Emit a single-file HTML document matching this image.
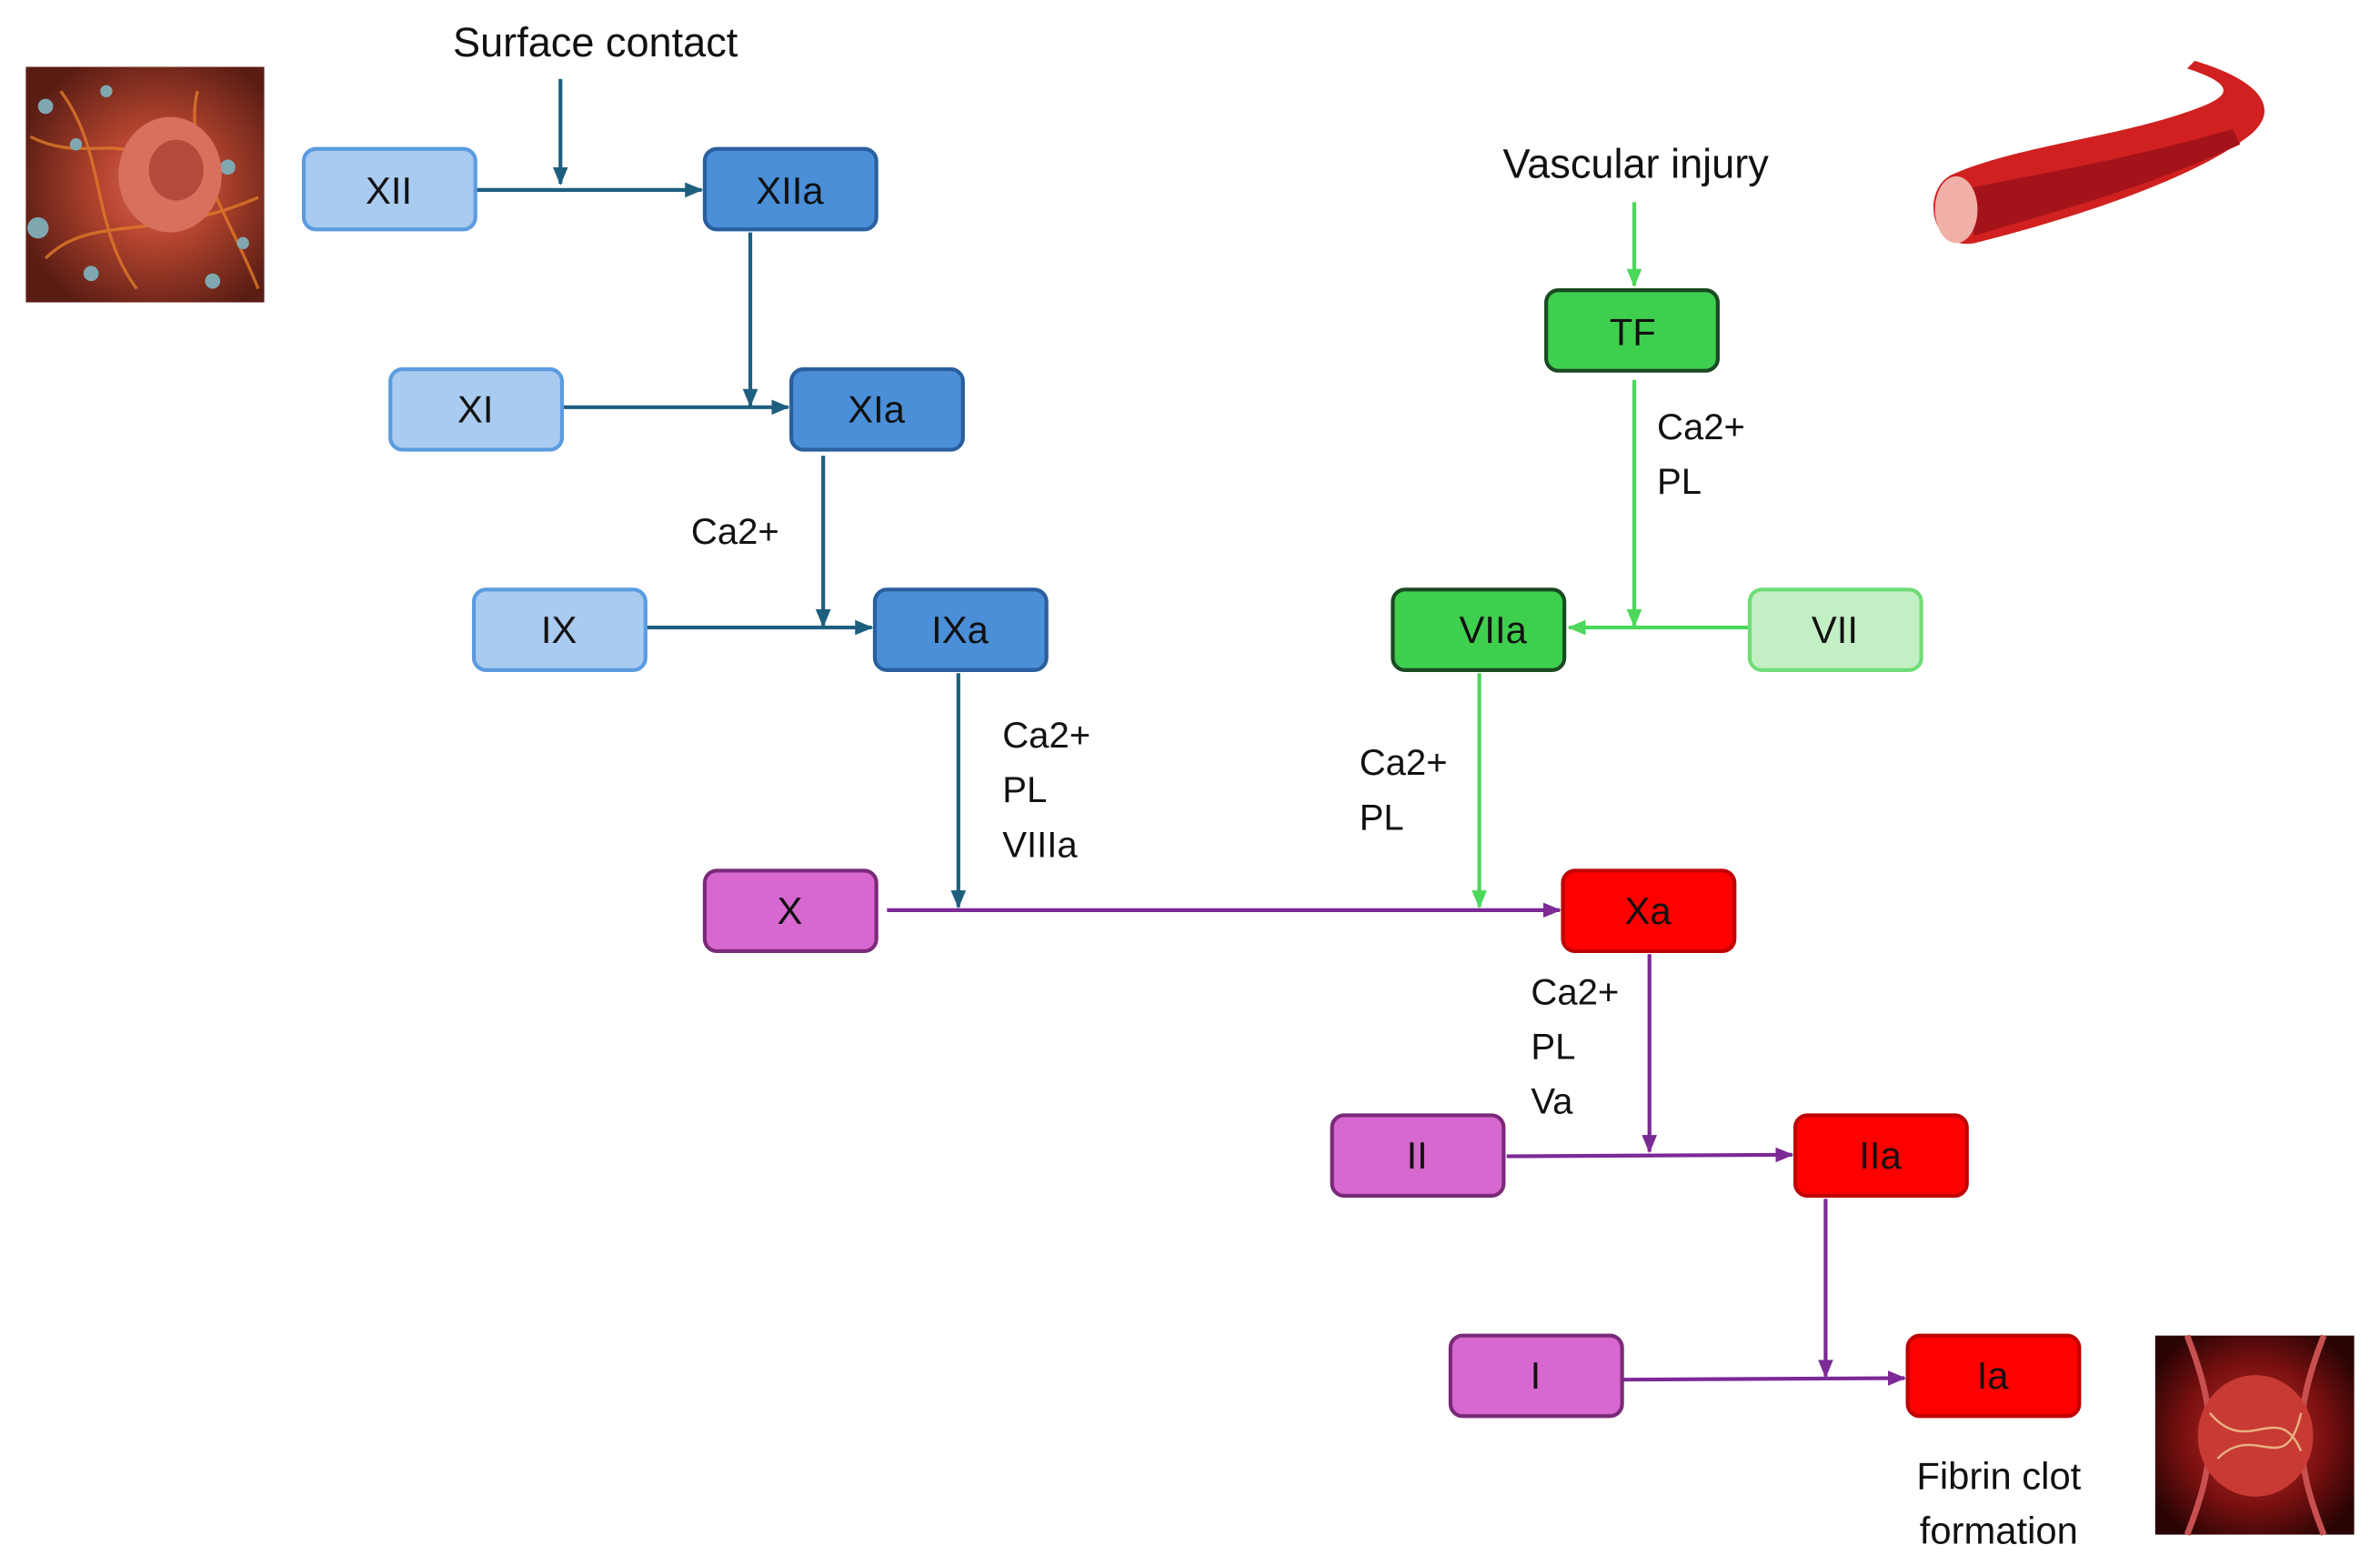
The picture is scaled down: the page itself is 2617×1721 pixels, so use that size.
<!DOCTYPE html>
<html><head><meta charset="utf-8"><style>
html,body{margin:0;padding:0;background:#fff}
svg{display:block}
text{font-family:"Liberation Sans",sans-serif}
</style></head><body>
<svg width="2617" height="1721" viewBox="0 0 1567 1030" preserveAspectRatio="none" xmlns="http://www.w3.org/2000/svg">
<defs>
<marker id="mb" markerWidth="12" markerHeight="12" refX="11" refY="6" orient="auto" markerUnits="userSpaceOnUse" viewBox="0 0 12 12"><path d="M0,1 L12,6 L0,11z" fill="#1e5f80"/></marker>
<marker id="mg" markerWidth="12" markerHeight="12" refX="11" refY="6" orient="auto" markerUnits="userSpaceOnUse" viewBox="0 0 12 12"><path d="M0,1 L12,6 L0,11z" fill="#4cd85a"/></marker>
<marker id="mp" markerWidth="12" markerHeight="12" refX="11" refY="6" orient="auto" markerUnits="userSpaceOnUse" viewBox="0 0 12 12"><path d="M0,1 L12,6 L0,11z" fill="#7b2a96"/></marker>
<radialGradient id="cell" cx="0.55" cy="0.5" r="0.6"><stop offset="0" stop-color="#d86a5a"/><stop offset="0.4" stop-color="#b5452f"/><stop offset="1" stop-color="#5a1d14"/></radialGradient>
<radialGradient id="clot" cx="0.5" cy="0.5" r="0.6"><stop offset="0" stop-color="#c0302a"/><stop offset="0.6" stop-color="#7a1010"/><stop offset="1" stop-color="#2a0404"/></radialGradient>
</defs>

<rect x="17" y="44" width="157" height="155" fill="url(#cell)"/>
<g stroke="#e07a2a" stroke-width="2" fill="none" opacity="0.8">
<path d="M20,90 C60,110 80,80 120,120"/><path d="M30,170 C60,140 100,160 170,130"/><path d="M40,60 C70,100 60,150 90,190"/><path d="M130,60 C120,100 150,140 170,190"/>
</g>
<g fill="#7fa7b0"><circle cx="30" cy="70" r="5"/><circle cx="50" cy="95" r="4"/><circle cx="25" cy="150" r="7"/><circle cx="60" cy="180" r="5"/><circle cx="150" cy="110" r="5"/><circle cx="160" cy="160" r="4"/><circle cx="140" cy="185" r="5"/><circle cx="70" cy="60" r="4"/></g>
<ellipse cx="112" cy="115" rx="34" ry="38" fill="#d8705e"/><ellipse cx="116" cy="112" rx="18" ry="20" fill="#b54a3c"/>

<path d="M1285,115 C1330,95 1400,90 1450,70 C1470,62 1470,55 1440,45 L1445,40 C1495,55 1500,75 1480,90 C1440,120 1360,145 1300,160 C1270,165 1265,125 1285,115z" fill="#d0201f"/>
<path d="M1290,125 C1340,115 1400,105 1470,85 L1475,95 C1410,125 1350,140 1300,155z" fill="#a5131a"/>
<ellipse cx="1288" cy="138" rx="14" ry="22" fill="#f0b0a8"/>

<rect x="1419" y="879" width="131" height="131" fill="url(#clot)"/>
<path d="M1440,879 C1460,930 1460,960 1440,1010 M1530,879 C1510,930 1510,960 1530,1010" stroke="#c85050" stroke-width="4" fill="none"/>
<ellipse cx="1485" cy="945" rx="38" ry="40" fill="#c83a34"/>
<g stroke="#e8b080" stroke-width="1.5" fill="none"><path d="M1455,930 C1480,960 1500,920 1515,955"/><path d="M1460,960 C1485,935 1505,975 1515,930"/></g>

<g font-size="27" fill="#111">
<text x="392" y="37" text-anchor="middle">Surface contact</text>
<text x="1077" y="117" text-anchor="middle">Vascular injury</text>
<text x="1316" y="980" text-anchor="middle" font-size="25">Fibrin clot</text>
<text x="1316" y="1016" text-anchor="middle" font-size="25">formation</text>
</g>
<g font-size="24" fill="#111">
<text x="455" y="358">Ca2+</text>
<text x="660" y="492">Ca2+</text><text x="660" y="528">PL</text><text x="660" y="564">VIIIa</text>
<text x="1091" y="289">Ca2+</text><text x="1091" y="325">PL</text>
<text x="895" y="510">Ca2+</text><text x="895" y="546">PL</text>
<text x="1008" y="661">Ca2+</text><text x="1008" y="697">PL</text><text x="1008" y="733">Va</text>
</g>

<g stroke="#1e5f80" stroke-width="2.5" fill="none">
<line x1="369" y1="52" x2="369" y2="121" marker-end="url(#mb)"/>
<line x1="313" y1="125" x2="462" y2="125" marker-end="url(#mb)"/>
<line x1="494" y1="153" x2="494" y2="267" marker-end="url(#mb)"/>
<line x1="370" y1="268" x2="519" y2="268" marker-end="url(#mb)"/>
<line x1="542" y1="300" x2="542" y2="412" marker-end="url(#mb)"/>
<line x1="425" y1="413" x2="574" y2="413" marker-end="url(#mb)"/>
<line x1="631" y1="443" x2="631" y2="597" marker-end="url(#mb)"/>
</g>
<g stroke="#4cd85a" stroke-width="2.5" fill="none">
<line x1="1076" y1="133" x2="1076" y2="188" marker-end="url(#mg)"/>
<line x1="1076" y1="250" x2="1076" y2="412" marker-end="url(#mg)"/>
<line x1="1152" y1="413" x2="1033" y2="413" marker-end="url(#mg)"/>
<line x1="974" y1="443" x2="974" y2="597" marker-end="url(#mg)"/>
</g>
<g stroke="#7b2a96" stroke-width="2.5" fill="none">
<line x1="584" y1="599" x2="1027" y2="599" marker-end="url(#mp)"/>
<line x1="1086" y1="628" x2="1086" y2="758" marker-end="url(#mp)"/>
<line x1="992" y1="761" x2="1180" y2="760" marker-end="url(#mp)"/>
<line x1="1202" y1="789" x2="1202" y2="906" marker-end="url(#mp)"/>
<line x1="1068" y1="908" x2="1254" y2="907" marker-end="url(#mp)"/>
</g>

<g stroke-width="2.5">
<rect x="200" y="98" width="113" height="53" rx="8" fill="#a9cbef" stroke="#5b9be0"/>
<rect x="464" y="98" width="113" height="53" rx="8" fill="#4a8fd8" stroke="#2a5f9e"/>
<rect x="257" y="243" width="113" height="53" rx="8" fill="#a9cbef" stroke="#5b9be0"/>
<rect x="521" y="243" width="113" height="53" rx="8" fill="#4a8fd8" stroke="#2a5f9e"/>
<rect x="312" y="388" width="113" height="53" rx="8" fill="#a9cbef" stroke="#5b9be0"/>
<rect x="576" y="388" width="113" height="53" rx="8" fill="#4a8fd8" stroke="#2a5f9e"/>
<rect x="1018" y="191" width="113" height="53" rx="8" fill="#3fcf4f" stroke="#1a4a22"/>
<rect x="917" y="388" width="113" height="53" rx="8" fill="#3fcf4f" stroke="#1a4a22"/>
<rect x="1152" y="388" width="113" height="53" rx="8" fill="#c2f0c4" stroke="#6fdc78"/>
<rect x="464" y="573" width="113" height="53" rx="8" fill="#d768cf" stroke="#7a2a78"/>
<rect x="1029" y="573" width="113" height="53" rx="8" fill="#ff0000" stroke="#c00000"/>
<rect x="877" y="734" width="113" height="53" rx="8" fill="#d768cf" stroke="#7a2a78"/>
<rect x="1182" y="734" width="113" height="53" rx="8" fill="#ff0000" stroke="#c00000"/>
<rect x="955" y="879" width="113" height="53" rx="8" fill="#d768cf" stroke="#7a2a78"/>
<rect x="1256" y="879" width="113" height="53" rx="8" fill="#ff0000" stroke="#c00000"/>
</g>
<g font-size="25" text-anchor="middle" fill="#111">
<text x="256" y="134">XII</text><text x="520" y="134">XIIa</text>
<text x="313" y="278">XI</text><text x="577" y="278">XIa</text>
<text x="368" y="423">IX</text><text x="632" y="423">IXa</text>
<text x="1075" y="227">TF</text><text x="983" y="423">VIIa</text><text x="1208" y="423">VII</text>
<text x="520" y="608">X</text><text x="1085" y="608">Xa</text>
<text x="933" y="769">II</text><text x="1238" y="769">IIa</text>
<text x="1011" y="914">I</text><text x="1312" y="914">Ia</text>
</g>
</svg>
</body></html>
